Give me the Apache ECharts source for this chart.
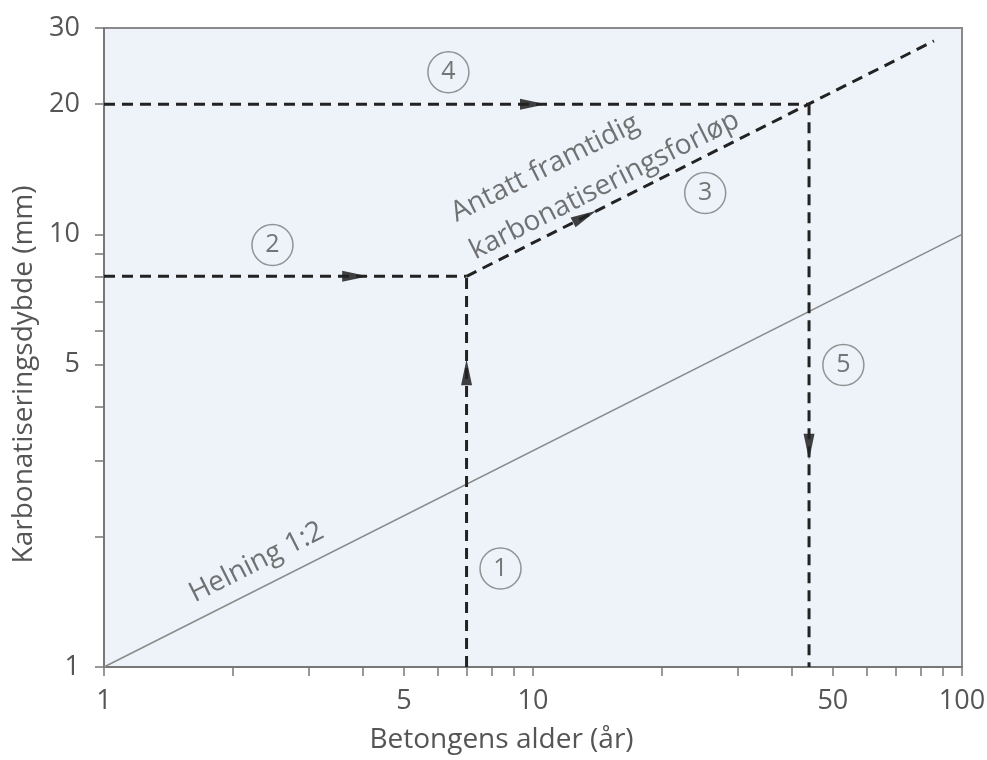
<!DOCTYPE html>
<html><head><meta charset="utf-8">
<script src="https://cdn.jsdelivr.net/npm/echarts@6/dist/echarts.min.js"></script>
<style>html,body{margin:0;padding:0;background:#fff}#c{width:987px;height:760px}</style>
</head><body><div id="c"></div>
<script>
// ---- data ----
const xTickValues = [1,2,3,4,5,6,7,8,9,10,20,30,40,50,60,70,80,90,100];
const xLabelValues = [1,5,10,50,100];
const yTickValues = [1,2,3,4,5,6,7,8,9,10,20,30];
const yLabelValues = [1,5,10,20,30];
const xName = 'Betongens alder (år)';
const yName = 'Karbonatiseringsdybde (mm)';

const slopeLine = [[1,1],[100,10]];
const step1 = [[7,1],[7,8]];
const step2 = [[1,8],[7,8]];
const step3 = [[7,8],[86,28]];
const step4 = [[1,20],[44,20]];
const step5 = [[44,20],[44,1]];
const steps = [step1, step2, step3, step4, step5];

const arrowX = [7, 3.85, 13.2, 10, 44];
const arrowY = [4.8, 8, 11, 20, 3.23];

const stepNames = ['1','2','3','4','5'];
const stepLabelX = [8.4, 2.47, 25.2, 6.35, 52.9];
const stepLabelY = [1.69, 9.45, 12.47, 23.7, 4.99];

const noteTexts = ['Helning 1:2', 'Antatt framtidig\nkarbonatiseringsforløp'];
const noteX = [1.6, 6.86];
const noteY = [1.46, 10.02];
const noteLines = [slopeLine, step3];

// ---- chart ----
const FONT = '"Open Sans", "DejaVu Sans", sans-serif';
const chart = echarts.init(document.getElementById('c'), null, {renderer: 'canvas'});

function buildOption(arrowRot, noteRot) {
  const series = [];
  series.push({
    type: 'line', data: slopeLine, showSymbol: false, silent: true,
    lineStyle: {color: '#8a8a8a', width: 1.5}
  });
  steps.forEach(s => series.push({
    type: 'line', data: s, showSymbol: false, silent: true,
    lineStyle: {color: '#222', width: 3, type: [11, 7]}
  }));
  series.push({
    type: 'scatter', symbol: 'triangle', symbolSize: [11, 26], silent: true,
    itemStyle: {color: '#111'},
    data: arrowX.map((x, i) => ({value: [x, arrowY[i]], symbolRotate: arrowRot[i]}))
  });
  series.push({
    type: 'scatter', symbol: 'circle', symbolSize: 41, silent: true,
    itemStyle: {color: 'rgba(0,0,0,0)', borderColor: '#7a7a7a', borderWidth: 1.5},
    label: {show: true, position: 'inside', formatter: '{b}', fontFamily: FONT, fontSize: 25, color: '#555'},
    data: stepNames.map((n, i) => ({name: n, value: [stepLabelX[i], stepLabelY[i]]}))
  });
  series.push({
    type: 'scatter', symbol: 'circle', symbolSize: 1, silent: true,
    itemStyle: {color: 'rgba(0,0,0,0)'},
    label: {show: true, position: [0, 0], formatter: '{b}', align: 'left', verticalAlign: 'middle',
      fontFamily: FONT, fontSize: 28, lineHeight: 42, color: '#505050'},
    data: noteTexts.map((t, i) => ({name: t, value: [noteX[i], noteY[i]], label: {rotate: noteRot[i]}}))
  });
  return {
    animation: false,
    grid: {left: 104, right: 25, top: 28, bottom: 93, show: true, backgroundColor: '#eef3f9',
      borderColor: '#8a8a8a', borderWidth: 2, outerBoundsMode: 'none'},
    xAxis: {
      type: 'log', logBase: 10, min: 1, max: 100,
      name: xName, nameLocation: 'middle', nameGap: 59,
      nameTextStyle: {fontFamily: FONT, fontSize: 28, color: '#555', padding: [0, 63, 0, 0]},
      axisLine: {show: true, lineStyle: {color: '#777', width: 2}},
      axisTick: {show: true, length: 9, customValues: xTickValues, lineStyle: {color: '#777', width: 1.5}},
      axisLabel: {customValues: xLabelValues, margin: 21, fontFamily: FONT, fontSize: 27, color: '#555'},
      splitLine: {show: false}, minorTick: {show: false}
    },
    yAxis: {
      type: 'log', logBase: 10, min: 1, max: 30,
      name: yName, nameLocation: 'middle', nameGap: 61,
      nameTextStyle: {fontFamily: FONT, fontSize: 28, color: '#555', padding: [0, 54, 0, 0]},
      axisLine: {show: true, lineStyle: {color: '#777', width: 2}},
      axisTick: {show: true, length: 9, customValues: yTickValues, lineStyle: {color: '#777', width: 1.5}},
      axisLabel: {customValues: yLabelValues, margin: 24, fontFamily: FONT, fontSize: 27, color: '#555'},
      splitLine: {show: false}, minorTick: {show: false}
    },
    series
  };
}

function angleOf(seg) {
  const p0 = chart.convertToPixel({gridIndex: 0}, seg[0]);
  const p1 = chart.convertToPixel({gridIndex: 0}, seg[seg.length - 1]);
  return Math.atan2(-(p1[1] - p0[1]), p1[0] - p0[0]) * 180 / Math.PI;
}

chart.setOption(buildOption(arrowX.map(() => 0), noteTexts.map(() => 0)));
const arrowRot = steps.map(s => angleOf(s) - 90);
const noteRot = noteLines.map(s => angleOf(s));
chart.setOption(buildOption(arrowRot, noteRot), true);
</script>
</body></html>
